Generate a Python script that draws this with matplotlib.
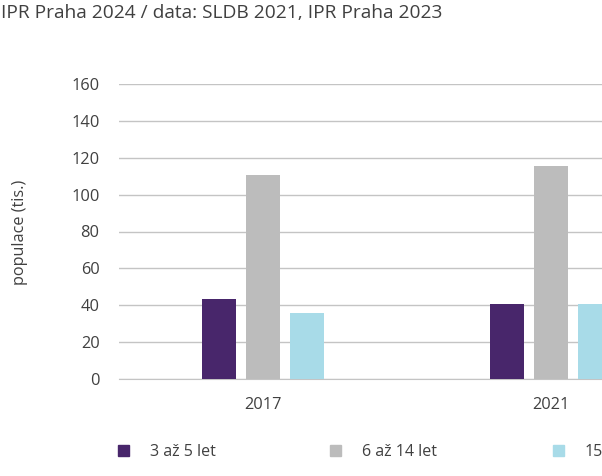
import matplotlib.pyplot as plt
import numpy as np
from matplotlib.patches import Patch

years = ['2017', '2021']
series = ['3 až 5 let', '6 až 14 let', '15']
age_3_5 = [43.3, 40.6]
age_6_14 = [110.5, 115.3]
age_15 = [35.8, 40.6]
colors = ['#48266b', '#bcbcbc', '#a8dbe8']

plt.rcParams['font.family'] = ['Open Sans', 'DejaVu Sans']
txt = '#404040'

fig = plt.figure(figsize=(6.02, 4.76), dpi=100)
ax = fig.add_axes([119 / 602, 1 - 379 / 476, 576 / 602, 295 / 476])

x = np.arange(len(years))
w = 0.118
for off, vals, c in zip([-0.152, 0, 0.152], [age_3_5, age_6_14, age_15], colors):
    ax.bar(x + off, vals, w, color=c, zorder=3)

ax.set_xlim(-0.5, 1.5)
ax.set_ylim(0, 160)
ax.set_yticks(range(0, 161, 20))
ax.set_xticks(x)
ax.set_xticklabels(years)
ax.grid(axis='y', color='#c4c4c4', linewidth=1, zorder=0)
for s in ['top', 'right', 'left']:
    ax.spines[s].set_visible(False)
ax.spines['bottom'].set_color('#c4c4c4')
ax.spines['bottom'].set_zorder(1)
ax.tick_params(axis='both', length=0, labelsize=11.8, labelcolor=txt)
ax.tick_params(axis='y', pad=14)
ax.tick_params(axis='x', pad=13)

fig.text(20 / 602, 1 - 232 / 476, 'populace (tis.)', rotation=90, ha='center', va='center',
         fontsize=11.7, color=txt)
fig.text(1 / 602, 1 - 13 / 476, 'IPR Praha 2024 / data: SLDB 2021, IPR Praha 2023',
         ha='left', va='center', fontsize=13.8, color=txt)

for i, (lab, c) in enumerate(zip(series, colors)):
    lx = [118, 330, 553][i]
    leg = fig.legend(handles=[Patch(color=c, label=lab)], loc='center left',
                     bbox_to_anchor=(lx / 602, 1 - 452 / 476), frameon=False,
                     fontsize=11.5, handlelength=0.68, handleheight=0.68,
                     handletextpad=1.3, borderaxespad=0, borderpad=0)
    for t in leg.get_texts():
        t.set_color(txt)

fig.savefig('out.png', dpi=100)
